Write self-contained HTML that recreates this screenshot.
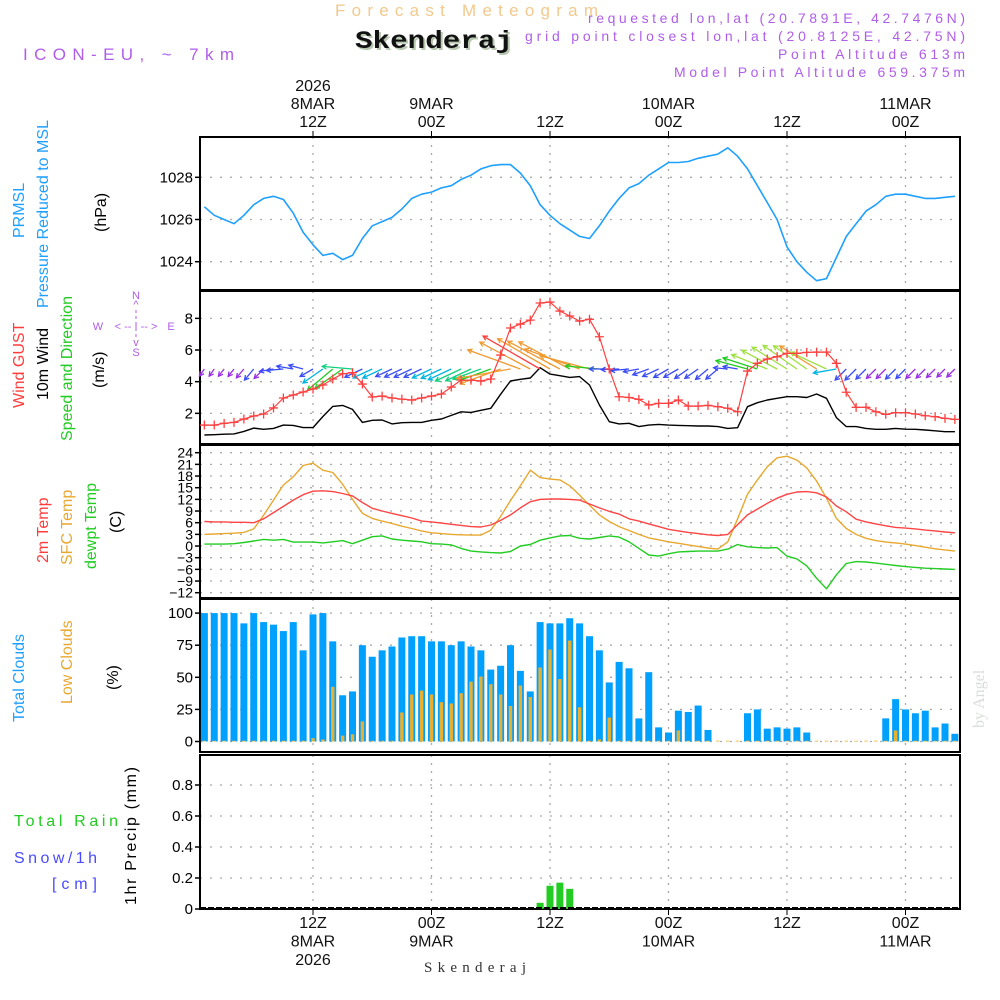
<!DOCTYPE html>
<html><head><meta charset="utf-8"><title>Meteogram Skenderaj</title>
<style>
html,body{margin:0;padding:0;background:#fff;}
svg{display:block;font-family:"Liberation Sans",sans-serif;}
</style></head>
<body>
<svg id="chart" width="1000" height="1000" viewBox="0 0 1000 1000" xmlns="http://www.w3.org/2000/svg">
<rect x="0" y="0" width="1000" height="1000" fill="#fff"/>
<!-- header -->
<text x="335" y="16" fill="#f2c98e" font-size="17" textLength="263" lengthAdjust="spacing">Forecast Meteogram</text>
<text x="357" y="50" fill="#b8c8b0" font-family="Liberation Mono,monospace" font-weight="bold" font-size="25" textLength="158" lengthAdjust="spacingAndGlyphs">Skenderaj</text>
<text x="355" y="48" fill="#111" font-family="Liberation Mono,monospace" font-weight="bold" font-size="25" textLength="158" lengthAdjust="spacingAndGlyphs">Skenderaj</text>
<text x="23" y="60" fill="#b05ee8" font-size="17" textLength="211" lengthAdjust="spacing">ICON-EU, ~ 7km</text>
<g fill="#b05ee8" font-size="14" text-anchor="end">
<text x="965" y="23" textLength="377" lengthAdjust="spacing">requested lon,lat (20.7891E, 42.7476N)</text>
<text x="965" y="41" textLength="440" lengthAdjust="spacing">grid point closest lon,lat (20.8125E, 42.75N)</text>
<text x="965" y="59" textLength="187" lengthAdjust="spacing">Point Altitude 613m</text>
<text x="965" y="77" textLength="291" lengthAdjust="spacing">Model Point Altitude 659.375m</text>
</g>
<!-- left labels -->
<g font-size="16">
<text transform="translate(24,238) rotate(-90)" fill="#1ea0ff">PRMSL</text>
<text transform="translate(48,308) rotate(-90)" fill="#1ea0ff" textLength="188" lengthAdjust="spacing">Pressure Reduced to MSL</text>
<text transform="translate(106,232) rotate(-90)" fill="#000">(hPa)</text>
</g>
<g font-size="16">
<text transform="translate(24,408) rotate(-90)" fill="#ff3c3c">Wind GUST</text>
<text transform="translate(48,400) rotate(-90)" fill="#000">10m Wind</text>
<text transform="translate(72,441) rotate(-90)" fill="#22cc22">Speed and Direction</text>
<text transform="translate(104,388) rotate(-90)" fill="#000">(m/s)</text>
</g>
<g fill="#b05ee8" font-size="11" text-anchor="middle">
<text x="136" y="299">N</text><text x="136" y="308">^</text>
<text x="98" y="330">W</text><text x="171" y="330">E</text>
<text x="136" y="330">&lt; -- I -- &gt;</text>
<text x="136" y="346">v</text><text x="136" y="356">S</text>
<line x1="136" y1="310" x2="136" y2="340" stroke="#b05ee8" stroke-width="1" stroke-dasharray="3,3"/>
</g>
<g font-size="16">
<text transform="translate(48,563) rotate(-90)" fill="#ff3c3c">2m Temp</text>
<text transform="translate(72,565) rotate(-90)" fill="#e8a830">SFC Temp</text>
<text transform="translate(96,569) rotate(-90)" fill="#22cc22">dewpt Temp</text>
<text transform="translate(121,533) rotate(-90)" fill="#000">(C)</text>
</g>
<g font-size="16">
<text transform="translate(24,722) rotate(-90)" fill="#1ea0ff">Total Clouds</text>
<text transform="translate(72,704) rotate(-90)" fill="#e8a830">Low Clouds</text>
<text transform="translate(118,690) rotate(-90)" fill="#000">(%)</text>
</g>
<g font-size="16">
<text x="14" y="826" fill="#22cc22" textLength="104" lengthAdjust="spacing">Total  Rain</text>
<text x="14" y="863" fill="#4a4aff" textLength="83" lengthAdjust="spacing">Snow/1h</text>
<text x="52" y="889" fill="#4a4aff" textLength="45" lengthAdjust="spacing">[cm]</text>
<text transform="translate(136,905) rotate(-90)" fill="#000" textLength="138" lengthAdjust="spacing">1hr Precip (mm)</text>
</g>
<text transform="translate(984,728) rotate(-90)" fill="#d8dcd8" font-family="Liberation Serif,serif" font-size="16">by Angel</text>
<text x="475" y="972" fill="#333" font-family="Liberation Serif,serif" font-size="15" text-anchor="middle" textLength="102" lengthAdjust="spacing">Skenderaj</text>
<g id="plot"></g>
</svg>
<script>
// ---- data (hourly, hour 1 = 01Z 8 MAR 2026) ----
var hours = [];
for (var i = 1; i <= 77; i++) hours.push(i);
var pressure = [1026.6,1026.2,1026.0,1025.8,1026.2,1026.7,1027.0,1027.1,1026.95,1026.3,
1025.4,1024.8,1024.3,1024.4,1024.1,1024.3,1025.1,1025.7,1025.9,1026.1,
1026.5,1027.0,1027.2,1027.3,1027.5,1027.6,1027.9,1028.1,1028.4,1028.55,
1028.6,1028.6,1028.2,1027.6,1026.7,1026.2,1025.8,1025.5,1025.2,1025.1,
1025.7,1026.4,1027.0,1027.5,1027.7,1028.1,1028.4,1028.7,1028.7,1028.75,
1028.9,1029.0,1029.1,1029.4,1029.0,1028.4,1027.6,1026.8,1026.0,1024.7,
1024.0,1023.5,1023.1,1023.2,1024.2,1025.2,1025.8,1026.4,1026.7,1027.1,
1027.2,1027.2,1027.1,1027.0,1027.0,1027.05,1027.1];
var windGust = [1.26,1.26,1.37,1.43,1.64,1.83,1.96,2.34,2.97,3.16,
3.35,3.54,3.79,4.17,4.5,4.57,3.85,3.03,3.09,2.97,
2.9,2.84,2.97,3.09,3.22,3.66,4.1,4.1,4.04,4.17,
5.68,7.39,7.64,7.89,8.97,9.03,8.46,8.15,7.83,7.94,
6.84,4.8,3.05,3.0,2.88,2.53,2.63,2.63,2.84,2.46,
2.46,2.5,2.42,2.32,2.1,4.67,5.16,5.43,5.58,5.79,
5.79,5.85,5.87,5.87,5.16,3.33,2.38,2.38,2.1,1.94,
2.04,2.04,1.96,1.85,1.79,1.68,1.62];
var windSpeed = [0.63,0.65,0.68,0.7,0.86,1.07,0.99,1.05,1.26,1.24,
1.1,1.1,1.8,2.44,2.5,2.25,1.43,1.56,1.58,1.33,
1.41,1.43,1.43,1.56,1.64,1.87,2.1,2.06,2.19,2.32,
3.2,4.04,4.15,4.23,4.88,4.48,4.38,4.27,4.32,3.79,
2.53,1.47,1.33,1.37,1.16,1.26,1.3,1.26,1.24,1.22,
1.2,1.2,1.16,1.05,1.09,2.42,2.67,2.84,2.95,3.05,
3.05,3.0,3.22,2.95,1.73,1.16,1.16,1.05,0.99,0.99,
1.05,1.0,0.99,0.95,0.9,0.84,0.84];
var windDir = [35,35,38,38,40,40,45,80,85,100,
105,60,55,50,55,95,65,65,65,65,
65,65,65,65,65,65,65,65,70,70,
70,80,110,118,120,120,118,118,110,105,
95,90,88,85,80,70,65,60,60,55,
55,50,50,95,100,105,108,112,118,122,
125,125,122,115,80,45,45,45,45,45,
45,45,45,45,45,45,45];
var temp2m = [6.3,6.2,6.2,6.1,6.1,6.0,7.0,8.6,10.2,11.8,
13.2,14.1,14.2,14.0,13.5,12.9,11.2,9.7,9.0,8.4,
7.8,7.2,6.4,6.2,5.9,5.6,5.3,5.0,4.9,5.4,
6.6,8.0,9.8,11.4,12.0,12.1,12.1,12.0,11.8,10.8,
9.8,8.9,8.2,7.0,6.4,5.7,5.0,4.3,3.9,3.5,
3.2,2.9,2.7,3.0,5.5,8.0,9.5,11.0,12.3,13.3,
13.9,14.0,13.7,12.6,10.3,8.8,6.9,6.2,5.7,5.2,
4.8,4.6,4.4,4.1,3.9,3.6,3.4];
var tempSfc = [3.0,3.1,3.2,3.3,3.5,4.4,7.9,11.8,15.7,17.8,
20.7,21.3,19.5,18.9,15.9,12.0,8.4,7.1,6.4,5.8,
5.1,4.5,3.9,3.4,3.2,3.0,2.9,2.8,2.8,4.1,
7.6,11.7,15.5,19.5,17.6,17.2,17.0,15.5,13.1,10.5,
8.0,6.3,5.0,4.0,3.0,2.1,1.6,1.1,0.7,0.3,
-0.1,-0.5,-0.8,1.1,7.0,13.3,17.0,20.4,22.7,23.1,
22.1,20.1,16.7,12.3,7.1,4.5,3.0,2.0,1.4,1.0,
0.8,0.5,0.1,-0.3,-0.7,-1.0,-1.3];
var dewPoint = [0.5,0.5,0.5,0.6,0.9,1.3,1.7,1.5,1.7,1.0,
1.0,1.0,0.8,1.1,1.4,0.6,1.5,2.4,2.6,1.8,
1.5,1.3,1.1,0.6,0.5,0.3,-0.6,-1.3,-1.5,-1.7,
-1.8,-1.4,0.0,0.4,1.5,2.1,2.6,2.7,2.0,1.8,
2.2,2.6,2.3,1.1,-0.6,-2.3,-2.6,-2.0,-1.5,-1.4,
-1.3,-1.3,-1.3,-0.8,0.4,-0.2,-0.4,-0.5,-0.4,-2.6,
-3.3,-5.1,-8.3,-11.0,-7.4,-4.5,-4.0,-4.1,-4.4,-4.7,
-5.0,-5.3,-5.5,-5.7,-5.8,-5.9,-6.0];
var totalClouds = [100,100,100,100,92,100,93,91,86,93,
71,99,100,78,36,39,75,66,71,74,
81,82,82,78,78,75,78,74,71,56,
59,75,55,39,93,92,92,96,92,82,
71,46,62,57,18,54,11,7,24,23,
28,9,0,0,0,22,25,10,11,10,
11,7,0,0,0,0,0,0,0,18,
33,25,22,24,11,14,6];
var lowClouds = [0,0,0,0,0,0,0,0,0,0,
0,2,1,42,4,5,15,0,0,0,
22,36,39,36,30,29,37,46,50,44,
36,27,43,34,57,71,48,78,26,0,
1,18,0,0,0,0,0,0,8,0,
0,0,0,0,0,0,0,0,0,0,
0,0,0,0,0,0,0,0,0,0,
8,0,0,0,0,0,0];
var precip = [0,0,0,0,0,0,0,0,0,0,
0,0,0,0,0,0,0,0,0,0,
0,0,0,0,0,0,0,0,0,0,
0,0,0,0,0.04,0.15,0.17,0.13,0,0,
0,0,0,0,0,0,0,0,0,0,
0,0,0,0,0,0,0,0,0,0,
0,0,0,0,0,0,0,0,0,0,
0,0,0,0,0,0,0];
var timeTickHours = [12,24,36,48,60,72];
var topLabelsDate = ["2026\n8MAR","9MAR","","10MAR","","11MAR"];
var topLabelsHour = ["12Z","00Z","12Z","00Z","12Z","00Z"];
var bottomLabelsDate = ["8MAR\n2026","9MAR","","10MAR","","11MAR"];
var pressureTicks = [1024,1026,1028];
var windTicks = [2,4,6,8];
var tempTicks = [24,21,18,15,12,9,6,3,0,-3,-6,-9,-12];
var cloudTicks = [0,25,50,75,100];
var precipTicks = [0,0.2,0.4,0.6,0.8];

// ---- axis functions ----
function X(h){ return 313 + (h-12)*9.875; }
function yP(v){ return 177.3 + (1028-v)*21.1; }
function yW(v){ return 445 - v*15.83; }
function yT(v){ return 452.7 + (24-v)*3.889; }
function yC(v){ return 741.5 - v*1.284; }
function yR(v){ return 909 - v*155; }

var NS="http://www.w3.org/2000/svg";
var plot=document.getElementById('plot');
function mk(tag, attrs, parent){
  var e=document.createElementNS(NS,tag);
  for(var k in attrs) e.setAttribute(k, attrs[k]);
  (parent||plot).appendChild(e);
  return e;
}
var panels=[[137,290,'pressure-panel'],[291,444,'wind-panel'],[445,598,'temperature-panel'],[599,752,'cloud-panel'],[755,909,'precip-panel']];
var X0=200, X1=960;

// gridlines
panels.forEach(function(p){
  timeTickHours.forEach(function(h){
    var g=mk('line',{x1:X(h),x2:X(h),y1:p[0],y2:p[1],stroke:'#aaa','stroke-width':1.3,'stroke-dasharray':'2,6'});
    
    
  });
});
function hgrid(ticks, fy, labelFmt, fs){
  ticks.forEach(function(t){
    var y=fy(t);
    var g=mk('line',{x1:X0,x2:X1,y1:y,y2:y,stroke:'#aaa','stroke-width':1.3,'stroke-dasharray':'2,8'});
    
    
    var tk=mk('line',{x1:X0-5,x2:X0,y1:y,y2:y,stroke:'#000','stroke-width':1.5});
    
    
    var tx=mk('text',{x:X0-7,y:y+5,'text-anchor':'end','font-size':fs||15,fill:'#000'});
    tx.textContent=labelFmt?labelFmt(t):String(t);
    
    
  });
}
hgrid(pressureTicks,yP);
hgrid(windTicks,yW);
hgrid(tempTicks,yT,function(t){return t<0?'\u2212'+(-t):String(t);},14);
hgrid(cloudTicks,yC);
hgrid(precipTicks,yR,function(t){return t===0?'0':t.toFixed(1);});

// panel frames
panels.forEach(function(p){
  var r=mk('rect',{x:X0,y:p[0],width:X1-X0,height:p[1]-p[0],fill:'none',stroke:'#000','stroke-width':2});
  
  
});

// time labels
timeTickHours.forEach(function(h,i){
  var x=X(h);
  var tkA=mk('line',{x1:x,x2:x,y1:131,y2:137,stroke:'#000','stroke-width':1});
  
  
  var lines=(topLabelsDate[i]?topLabelsDate[i].split('\n'):[]).concat([topLabelsHour[i]]);
  var y0=127-(lines.length-1)*18;
  lines.forEach(function(s,j){
    var t=mk('text',{x:x,y:y0+j*18,'text-anchor':'middle','font-size':16,fill:'#111'});
    t.textContent=s;
    
    
  });
  var blines=[topLabelsHour[i]].concat(bottomLabelsDate[i]?bottomLabelsDate[i].split('\n'):[]);
  blines.forEach(function(s,j){
    var t=mk('text',{x:x,y:928+j*18.5,'text-anchor':'middle','font-size':16,fill:'#111'});
    t.textContent=s;
    
    
  });
  var tkB=mk('line',{x1:x,x2:x,y1:909,y2:915,stroke:'#000','stroke-width':1});
  
  
});

function polyline(vals, fy, color, w, name){
  var pts=vals.map(function(v,i){return X(hours[i]).toFixed(1)+','+fy(v).toFixed(1);}).join(' ');
  var l=mk('polyline',{points:pts,fill:'none',stroke:color,'stroke-width':w,'stroke-linejoin':'round'});
  
  
}
// pressure
polyline(pressure,yP,'#1ea0ff',1.6,'pressure-line');

// clouds
hours.forEach(function(h,i){
  if(totalClouds[i]>0){
    var b=mk('rect',{x:X(h)-3.5,y:yC(totalClouds[i]),width:7,height:yC(0)-yC(totalClouds[i]),fill:'#00a0ff'});
    
    
  }
  var lb=mk('rect',{x:X(h)-1.7,y:yC(lowClouds[i])-0.8,width:3.4,height:yC(0)-yC(lowClouds[i])+0.8,fill:'#e8b030'});
  
  
});

// precip
hours.forEach(function(h,i){
  if(precip[i]>0){
    var b=mk('rect',{x:X(h)-3.5,y:yR(precip[i]),width:7,height:yR(0)-yR(precip[i]),fill:'#22cc22'});
    
    
  }
});
var zl=mk('line',{x1:X0,x2:X1,y1:908,y2:908,stroke:'#000','stroke-width':2,'stroke-dasharray':'6,2'});



// temps
polyline(tempSfc,yT,'#e8a830',1.4,'sfc-temp-line');
polyline(temp2m,yT,'#ff4444',1.4,'2m-temp-line');
polyline(dewPoint,yT,'#22cc22',1.4,'dewpoint-line');

// wind speed
polyline(windSpeed,yW,'#000',1.4,'wind-speed-line');
// wind arrows
function windColor(s){
  if(s<1.0) return '#9a2ee6';
  if(s<1.5) return '#3a4cf5';
  if(s<1.9) return '#00b4e0';
  if(s<2.3) return '#10d080';
  if(s<2.7) return '#22cc22';
  if(s<3.1) return '#a0e040';
  if(s<4.6) return '#f09a30';
  return '#ff4040';
}
var arrowBase=369;
hours.forEach(function(h,i){
  var s=windSpeed[i], L=13.5*s, to=(windDir[i]+180)*Math.PI/180;
  var x0=X(h), y0=arrowBase;
  var dx=Math.sin(to)*L, dy=-Math.cos(to)*L;
  var x1=x0+dx, y1=y0+dy;
  var a=Math.atan2(dy,dx), hl=5;
  var c=windColor(s);
  var g=mk('g',{stroke:c,'stroke-width':1.3,fill:'none'});
  
  
  mk('line',{x1:x0,y1:y0,x2:x1,y2:y1},g);
  mk('polyline',{points:(x1-hl*Math.cos(a-0.5))+','+(y1-hl*Math.sin(a-0.5))+' '+x1+','+y1+' '+(x1-hl*Math.cos(a+0.5))+','+(y1-hl*Math.sin(a+0.5))},g);
});

// wind gust
polyline(windGust,yW,'#ff4040',1.2,'wind-gust-line');
hours.forEach(function(h,i){
  var x=X(h), y=yW(windGust[i]);
  var p=mk('path',{d:'M'+(x-4.5)+' '+y+'H'+(x+4.5)+'M'+x+' '+(y-4.5)+'V'+(y+4.5),stroke:'#ff4040','stroke-width':1.3});
  
  
});
</script>
</body></html>
